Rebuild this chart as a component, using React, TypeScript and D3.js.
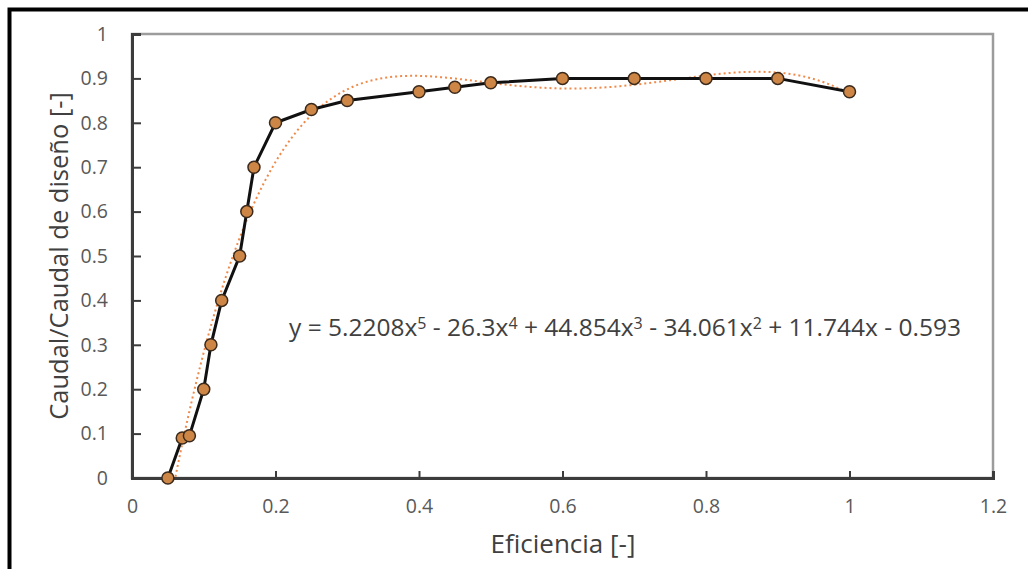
import React, { useRef, useEffect } from 'react';
import * as d3 from 'd3';

// measured points
const eficiencia = [0.05, 0.07, 0.08, 0.1, 0.11, 0.125, 0.15, 0.16, 0.17, 0.2, 0.25, 0.3, 0.4, 0.45, 0.5, 0.6, 0.7, 0.8, 0.9, 1.0];
const caudal = [0, 0.09, 0.095, 0.2, 0.3, 0.4, 0.5, 0.6, 0.7, 0.8, 0.83, 0.85, 0.87, 0.88, 0.89, 0.9, 0.9, 0.9, 0.9, 0.87];

// trendline coefficients as printed on the chart (x^5 .. x^0)
const coefs = [5.2208, -26.3, 44.854, -34.061, 11.744, -0.593];
const equation = ['y = 5.2208x', '5', ' - 26.3x', '4', ' + 44.854x', '3', ' - 34.061x', '2', ' + 11.744x - 0.593'];

const xTicks = [0, 0.2, 0.4, 0.6, 0.8, 1, 1.2];
const yTicks = [0, 0.1, 0.2, 0.3, 0.4, 0.5, 0.6, 0.7, 0.8, 0.9, 1];

const W = 1028;
const H = 569;
const margin = { top: 34, right: 35, bottom: 91, left: 132 };
const font = "'Open Sans', 'Noto Sans', sans-serif";

function App() {
    const ref = useRef<SVGSVGElement>(null);

    useEffect(() => {
        const svg = d3.select(ref.current);
        svg.selectAll('*').remove();

        const x = d3.scaleLinear().domain([0, 1.2]).range([margin.left, W - margin.right]);
        const y = d3.scaleLinear().domain([0, 1]).range([H - margin.bottom, margin.top]);

        // outer frame (right / bottom edges fall outside the picture)
        svg.append('rect')
            .attr('x', 9.5).attr('y', 9.5)
            .attr('width', W + 20).attr('height', H + 20)
            .attr('fill', 'white')
            .attr('stroke', '#000')
            .attr('stroke-width', 4);

        // plot area border
        svg.append('rect')
            .attr('x', x(0)).attr('y', y(1))
            .attr('width', x(1.2) - x(0)).attr('height', y(0) - y(1))
            .attr('fill', 'none')
            .attr('stroke', '#9c9c9c')
            .attr('stroke-width', 2.5);

        const fmt = (d: d3.NumberValue) => String(+(+d).toFixed(1));

        const yAxis = d3.axisLeft(y).tickValues(yTicks).tickSize(-9).tickPadding(24).tickFormat(fmt);
        const gy = svg.append('g')
            .attr('transform', `translate(${x(0)},0)`)
            .call(yAxis);
        gy.select('.domain').attr('stroke', '#3c3c3c').attr('stroke-width', 3);
        gy.selectAll('.tick line').attr('stroke', '#3c3c3c').attr('stroke-width', 2);
        gy.selectAll('.tick text')
            .attr('fill', '#595959')
            .style('font-family', font)
            .style('font-size', '19.5px');

        const xAxis = d3.axisBottom(x).tickValues(xTicks).tickSize(-7).tickPadding(21).tickFormat(fmt);
        const gx = svg.append('g')
            .attr('transform', `translate(0,${y(0)})`)
            .call(xAxis);
        gx.select('.domain').attr('stroke', '#3c3c3c').attr('stroke-width', 3);
        gx.selectAll('.tick line').attr('stroke', '#3c3c3c').attr('stroke-width', 2);
        gx.selectAll('.tick text')
            .attr('fill', '#595959')
            .style('font-family', font)
            .style('font-size', '19.5px');

        svg.append('clipPath').attr('id', 'plot-clip')
            .append('rect')
            .attr('x', x(0)).attr('y', y(1))
            .attr('width', x(1.2) - x(0)).attr('height', y(0) - y(1));

        // polynomial trendline over the data range
        const poly = (v: number) => coefs.reduce((acc, c) => acc * v + c, 0);
        const xs = d3.range(0.05, 1.0001, 0.005);
        const trend = d3.line<number>().x(d => x(d)).y(d => y(poly(d)));
        svg.append('path')
            .datum(xs)
            .attr('clip-path', 'url(#plot-clip)')
            .attr('d', trend)
            .attr('fill', 'none')
            .attr('stroke', '#ef8a4a')
            .attr('stroke-width', 2)
            .attr('stroke-dasharray', '2,3');

        const pts = eficiencia.map((e, i) => [e, caudal[i]] as [number, number]);
        const line = d3.line<[number, number]>().x(d => x(d[0])).y(d => y(d[1]));
        svg.append('path')
            .datum(pts)
            .attr('d', line)
            .attr('fill', 'none')
            .attr('stroke', '#111')
            .attr('stroke-width', 3);

        svg.append('g')
            .selectAll('circle')
            .data(pts)
            .join('circle')
            .attr('cx', d => x(d[0]))
            .attr('cy', d => y(d[1]))
            .attr('r', 6)
            .attr('fill', '#cd8645')
            .attr('stroke', '#3b2a1c')
            .attr('stroke-width', 1.5);

        // equation label
        const eq = svg.append('text')
            .attr('x', 625)
            .attr('y', 336)
            .attr('text-anchor', 'middle')
            .attr('fill', '#404040')
            .style('font-family', font)
            .style('font-size', '24.5px');
        equation.forEach((part, i) => {
            const sup = i % 2 === 1;
            eq.append('tspan')
                .attr('baseline-shift', sup ? '45%' : null)
                .style('font-size', sup ? '16px' : null)
                .text(part);
        });

        // axis titles
        svg.append('text')
            .attr('x', 563)
            .attr('y', 553)
            .attr('text-anchor', 'middle')
            .attr('fill', '#404040')
            .style('font-family', font)
            .style('font-size', '26px')
            .text('Eficiencia [-]');

        svg.append('text')
            .attr('transform', `translate(68,${(y(0) + y(1)) / 2}) rotate(-90)`)
            .attr('text-anchor', 'middle')
            .attr('fill', '#404040')
            .style('font-family', font)
            .style('font-size', '25.5px')
            .text('Caudal/Caudal de diseño [-]');
    }, []);

    return (
        <svg ref={ref} width={W} height={H}
            style={{ position: 'absolute', left: 0, top: 0, background: 'white' }} />
    );
}

export default App;
